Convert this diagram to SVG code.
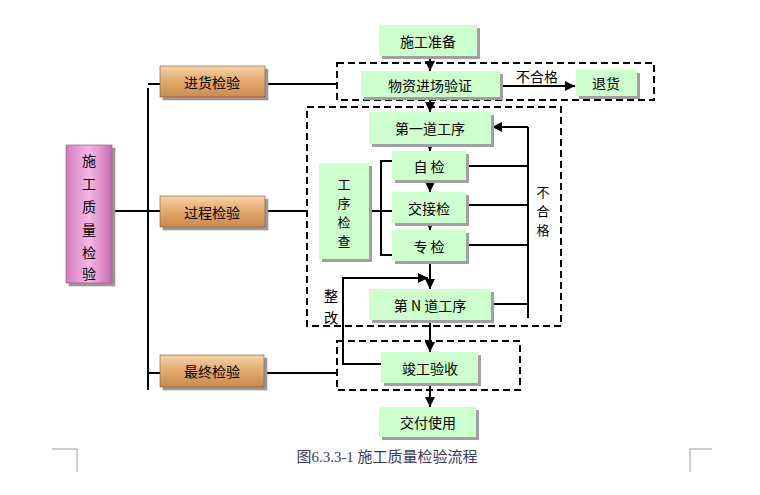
<svg xmlns="http://www.w3.org/2000/svg" width="760" height="495" viewBox="0 0 760 495">
<defs>
<linearGradient id="tan" x1="0" y1="0" x2="0" y2="1"><stop offset="0" stop-color="#f6d3a6"/><stop offset="0.5" stop-color="#e3a86c"/><stop offset="1" stop-color="#c98a4f"/></linearGradient>
<linearGradient id="pink" x1="0" y1="0" x2="1" y2="0"><stop offset="0" stop-color="#d27bbd"/><stop offset="0.5" stop-color="#f4b8e4"/><stop offset="1" stop-color="#c86cb2"/></linearGradient>
<marker id="ar" viewBox="0 0 10 10" refX="10" refY="5" markerWidth="5" markerHeight="5" orient="auto"><path d="M0,0 L10,5 L0,10 z" fill="#000"/></marker>
</defs>
<style>
text{font-family:"Noto Sans CJK SC","Liberation Sans",sans-serif;font-size:14px;fill:#000;text-anchor:middle;dominant-baseline:central}
.v{font-size:13px}
.g{fill:#ccffcc;filter:drop-shadow(3px 3px 0 #a0a0a0)}
.t{stroke:#7a5a3a;stroke-width:0.6;filter:drop-shadow(3px 3px 0 #999)}
.d{fill:none;stroke:#000;stroke-width:2;stroke-dasharray:7 4}
.l{fill:none;stroke:#000;stroke-width:2}
.a{fill:none;stroke:#000;stroke-width:2;marker-end:url(#ar)}
</style>
<rect width="760" height="495" fill="#fff"/>
<g id="frames">
<rect class="d" x="337" y="63" width="317" height="37"/>
<rect class="d" x="307" y="107" width="254" height="219"/>
<rect class="d" x="337" y="341" width="183" height="49"/>
</g>
<g id="connectors">
<path class="l" d="M148 88V390M112 211H148M148 84H160M148 211H160M148 373H160M265 84H337M265 211H307M264 373H337"/>
<path class="a" d="M430 56V71"/>
<path class="a" d="M430 97V112"/>
<path class="a" d="M500 86H575"/>
<path class="a" d="M430 144V151"/>
<path class="a" d="M430 180V192"/>
<path class="a" d="M430 223V230"/>
<path class="a" d="M430 261V289"/>
<path class="a" d="M430 320V352"/>
<path class="a" d="M430 383V407"/>
<path class="l" d="M466 166H528M466 205H528M466 245H528M491 304H528M528 318V127"/>
<path class="a" d="M528 127H492"/>
<path class="l" d="M392 161H381V255H392M369 211H392"/>
<path class="a" d="M343 365V278H428"/>
<path class="l" d="M343 364H381"/>
</g>
<g id="n-left"><rect x="66" y="145" width="46" height="138" fill="url(#pink)" stroke="#a04a8a" stroke-width="0.6" style="filter:drop-shadow(3px 3px 0 #999)"/>
<text x="89" y="160">施</text><text x="89" y="183">工</text><text x="89" y="206">质</text><text x="89" y="229">量</text><text x="89" y="252">检</text><text x="89" y="273">验</text></g>
<g id="n-jh"><rect class="t" x="160" y="66" width="105" height="31" fill="url(#tan)"/><text x="212" y="82">进货检验</text></g>
<g id="n-gc"><rect class="t" x="160" y="196" width="105" height="31" fill="url(#tan)"/><text x="212" y="212">过程检验</text></g>
<g id="n-zz"><rect class="t" x="160" y="355" width="104" height="32" fill="url(#tan)"/><text x="212" y="371">最终检验</text></g>
<g id="n-zb"><rect class="g" x="379" y="25" width="98" height="31"/><text x="428" y="41">施工准备</text></g>
<g id="n-wz"><rect class="g" x="361" y="71" width="139" height="26"/><text x="430" y="85">物资进场验证</text></g>
<g id="n-th"><rect class="g" x="576" y="70" width="61" height="26"/><text x="606" y="83">退货</text></g>
<text x="537" y="76">不合格</text>
<g id="n-d1"><rect class="g" x="369" y="112" width="122" height="32"/><text x="430" y="128">第一道工序</text></g>
<g id="n-zj"><rect class="g" x="392" y="151" width="74" height="29"/><text x="429" y="166">自 检</text></g>
<g id="n-jj"><rect class="g" x="392" y="192" width="74" height="31"/><text x="429" y="208">交接检</text></g>
<g id="n-zjj"><rect class="g" x="392" y="230" width="74" height="31"/><text x="429" y="246">专 检</text></g>
<g id="n-gx"><rect class="g" x="319" y="163" width="50" height="96"/><text class="v" x="344" y="183">工</text><text class="v" x="344" y="202">序</text><text class="v" x="344" y="221">检</text><text class="v" x="344" y="240">查</text></g>
<text class="v" x="543" y="191">不</text><text class="v" x="543" y="210">合</text><text class="v" x="543" y="229">格</text>
<g id="n-dn"><rect class="g" x="369" y="289" width="122" height="31"/><text x="430" y="305">第 N 道工序</text></g>
<text x="331" y="295">整</text><text x="331" y="317">改</text>
<g id="n-jg"><rect class="g" x="381" y="352" width="97" height="31"/><text x="430" y="368">竣工验收</text></g>
<g id="n-jf"><rect class="g" x="379" y="407" width="97" height="30"/><text x="428" y="422">交付使用</text></g>
<text x="387" y="457" style="font-family:'Liberation Serif','Noto Sans CJK SC',serif;font-size:15px;fill:#3a3a5a">图6.3.3-1 施工质量检验流程</text>
<path d="M52 449H77V472M712 449H690V472" fill="none" stroke="#999" stroke-width="1"/>
</svg>
